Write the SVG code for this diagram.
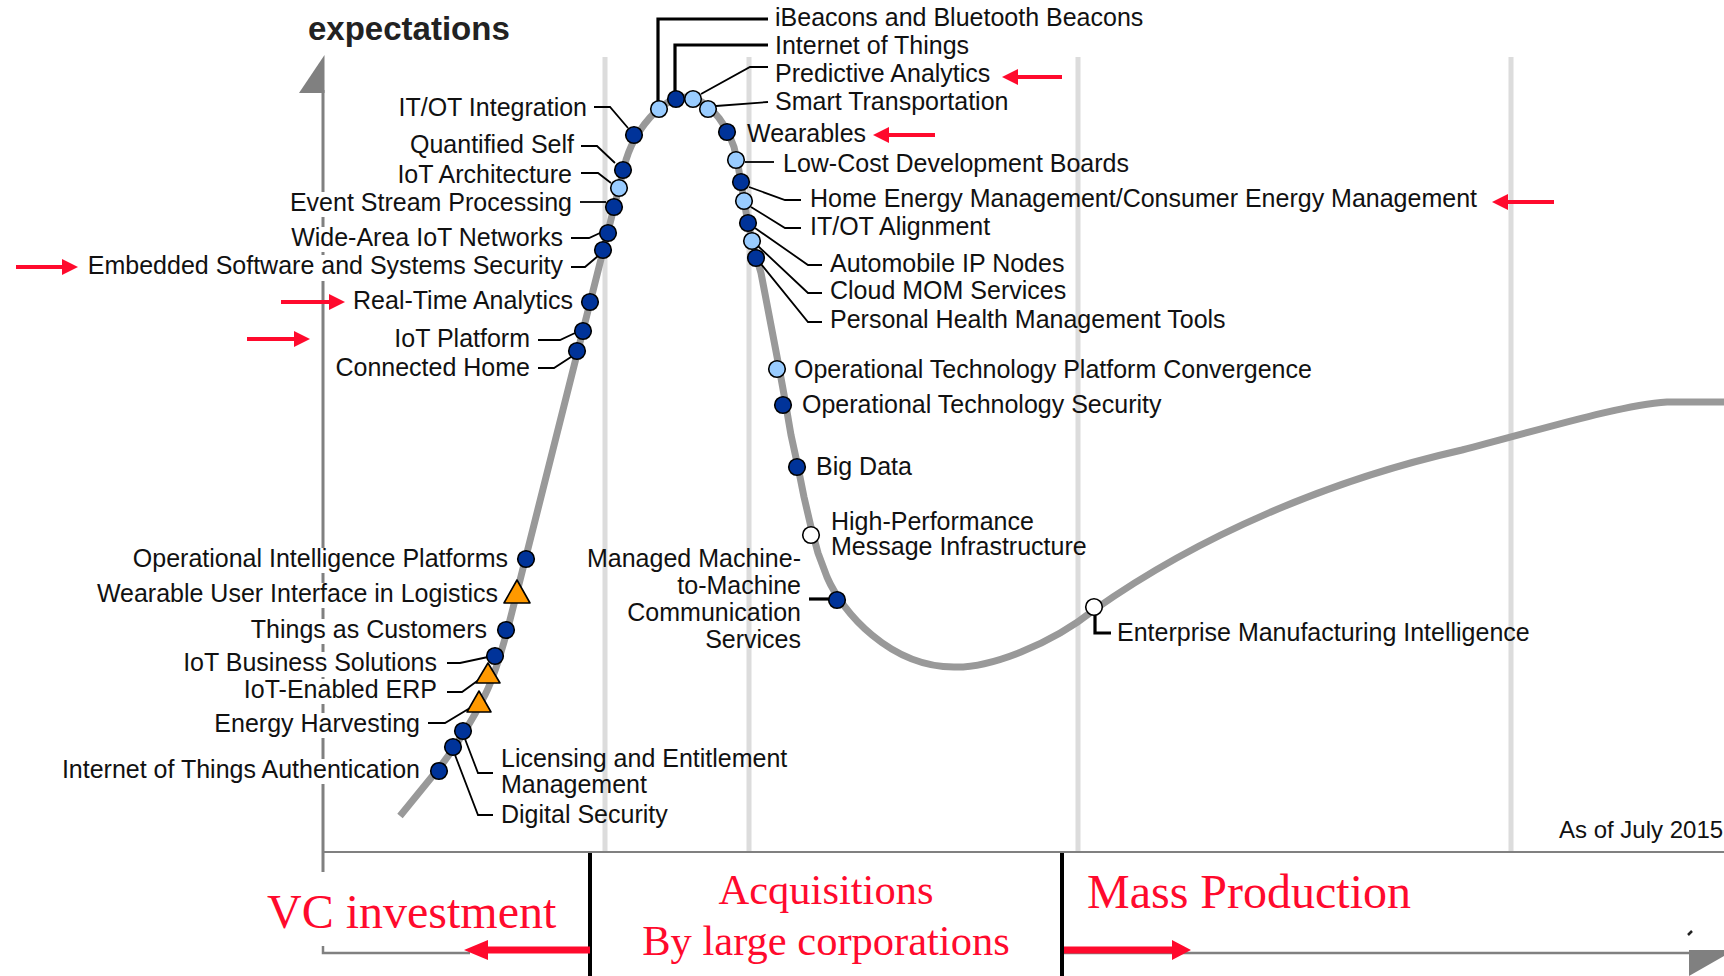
<svg xmlns="http://www.w3.org/2000/svg" width="1724" height="976" viewBox="0 0 1724 976">
<style>
.lbl{font-family:"Liberation Sans",Arial,sans-serif;font-size:25px;fill:#111}
.r{text-anchor:end}
.dk{fill:#003399;stroke:#000;stroke-width:1.6}
.lt{fill:#99ccff;stroke:#000;stroke-width:1.6}
.wt{fill:#fff;stroke:#000;stroke-width:1.6}
.tri{fill:#ff9900;stroke:#000;stroke-width:1.6;stroke-linejoin:round}
.ld{fill:none;stroke:#000;stroke-width:1.8}
.ldk{fill:none;stroke:#000;stroke-width:3.2}
.grid{stroke:#dcdcdc;stroke-width:5}
.red{fill:#ff0a2d}
.rt{font-family:"Liberation Serif","Times New Roman",serif;fill:#ff0a2d}
.wm{fill:#fff}
.ax{stroke:#808080;fill:none}
</style>
<rect width="1724" height="976" fill="#fff"/>
<g id="gridlines">
<line class="grid" x1="605" y1="57" x2="605" y2="851"/>
<line class="grid" x1="749" y1="57" x2="749" y2="851"/>
<line class="grid" x1="1078" y1="57" x2="1078" y2="851"/>
<line class="grid" x1="1511" y1="57" x2="1511" y2="851"/>
</g>
<g id="axes">
<polygon points="324.5,55 299,93 324.5,93" fill="#808080"/>
<line class="ax" x1="323" y1="90" x2="323" y2="872" stroke-width="3"/>
<line class="ax" x1="322" y1="852" x2="1724" y2="852" stroke-width="2" stroke="#8c8c8c"/>
<path class="ax" d="M323,946 V953 H470" stroke-width="2.5"/>
<line class="ax" x1="1062" y1="953" x2="1692" y2="953" stroke-width="2.5"/>
<polygon points="1689,950 1724,950 1724,956 1689,976" fill="#808080"/>
<path d="M1688,935 L1692,931" stroke="#222" stroke-width="2.5"/>
<text x="308" y="40" style="font-family:'Liberation Sans',Arial,sans-serif;font-size:33px;font-weight:bold;fill:#222">expectations</text>
</g>
<g id="curve">
<path fill="none" stroke="#999" stroke-width="7" stroke-linejoin="round" d="M400,816 L435,773 C450,755 470,725 485,695 C495,675 505,640 512,612 L626,160 C632,140 645,120 661,107 L670,101 L679,98 L686,97 L692,98 L702,102 L712,110 L719,118 L725,127 L730,137 L734,147 L738,165 L741,183 L744,200 L747,218 L752,240 L756,256 L761,273 L770,320 L779,367 L785,400 L791,435 L798,467 L804,497 L811,527 L818,553 L827,577 C842,612 890,667 954,667 C990,668 1050,645 1094,610 C1200,535 1330,480 1462,450 C1540,430 1620,405 1667,402 L1730,402"/>
</g>
<g id="axis-masks">
<rect class="wm" x="318" y="192" width="12" height="25"/>
<rect class="wm" x="318" y="227" width="12" height="25"/>
<rect class="wm" x="318" y="255" width="12" height="26"/>
<rect class="wm" x="318" y="548" width="12" height="25"/>
<rect class="wm" x="318" y="583" width="12" height="25"/>
<rect class="wm" x="318" y="619" width="12" height="25"/>
<rect class="wm" x="318" y="652" width="12" height="25"/>
<rect class="wm" x="318" y="679" width="12" height="25"/>
<rect class="wm" x="318" y="713" width="12" height="25"/>
<rect class="wm" x="318" y="759" width="12" height="25"/>
</g>
<g id="connectors">
<path class="ld" d="M594,107 H610 L628,128"/>
<path class="ld" d="M581,146 H597 L615,163"/>
<path class="ld" d="M581,173 H598 L611,183"/>
<path class="ld" d="M580,202 H606"/>
<path class="ld" d="M571,238 H589 L600,233"/>
<path class="ld" d="M571,267 H585 L598,256"/>
<path class="ld" d="M538,340 H560 L575,333"/>
<path class="ld" d="M538,368 H554 L571,357"/>
<path class="ld" d="M447,663 H460 L488,657"/>
<path class="ld" d="M447,692 H462 L480,679"/>
<path class="ld" d="M428,723 H445 L470,708"/>
<path class="ld" d="M465,739 L478,773 H493"/>
<path class="ld" d="M455,755 L478,815 H493"/>
<path class="ldk" d="M658,101 V19 H768"/>
<path class="ldk" d="M675,92 V45 H768"/>
<path class="ld" d="M701,94 L750,67 H768"/>
<path class="ld" d="M716,106 L768,102"/>
<path class="ld" d="M745,162 H774"/>
<path class="ld" d="M749,187 L785,200 H801"/>
<path class="ld" d="M751,207 L785,228 H801"/>
<path class="ld" d="M755,228 L808,265 H822"/>
<path class="ld" d="M758,246 L808,293 H822"/>
<path class="ld" d="M761,264 L808,322 H822"/>
<path class="ldk" d="M809,599 H830"/>
<path class="ldk" d="M1095,615 V633 H1111"/>
</g>
<g id="node-it-ot-integration"><circle class="dk" cx="634" cy="135" r="8.3"/><text class="lbl r" x="587" y="116">IT/OT Integration</text></g>
<g id="node-quantified-self"><circle class="dk" cx="623" cy="170" r="8.3"/><text class="lbl r" x="574" y="153">Quantified Self</text></g>
<g id="node-iot-architecture"><circle class="lt" cx="619" cy="188" r="8.3"/><text class="lbl r" x="572" y="183">IoT Architecture</text></g>
<g id="node-event-stream"><circle class="dk" cx="614" cy="207" r="8.3"/><text class="lbl r" x="572" y="211">Event Stream Processing</text></g>
<g id="node-wide-area"><circle class="dk" cx="608" cy="233" r="8.3"/><text class="lbl r" x="563" y="246">Wide-Area IoT Networks</text></g>
<g id="node-embedded"><circle class="dk" cx="603" cy="250" r="8.3"/><text class="lbl r" x="563" y="274">Embedded Software and Systems Security</text></g>
<g id="node-real-time"><circle class="dk" cx="590" cy="302" r="8.3"/><text class="lbl r" x="573" y="309">Real-Time Analytics</text></g>
<g id="node-iot-platform"><circle class="dk" cx="583" cy="331" r="8.3"/><text class="lbl r" x="530" y="347">IoT Platform</text></g>
<g id="node-connected-home"><circle class="dk" cx="577" cy="351" r="8.3"/><text class="lbl r" x="530" y="376">Connected Home</text></g>
<g id="node-op-intel"><circle class="dk" cx="526" cy="559" r="8.3"/><text class="lbl r" x="508" y="567">Operational Intelligence Platforms</text></g>
<g id="node-wearable-ui"><polygon class="tri" points="517,580 504,603 530,603"/><text class="lbl r" x="498" y="602">Wearable User Interface in Logistics</text></g>
<g id="node-things-customers"><circle class="dk" cx="506" cy="630" r="8.3"/><text class="lbl r" x="487" y="638">Things as Customers</text></g>
<g id="node-iot-business"><circle class="dk" cx="495" cy="656" r="8.3"/><text class="lbl r" x="437" y="671">IoT Business Solutions</text></g>
<g id="node-iot-erp"><polygon class="tri" points="488,663 476,683 500,683"/><text class="lbl r" x="437" y="698">IoT-Enabled ERP</text></g>
<g id="node-energy-harvesting"><polygon class="tri" points="479,691 467,712 491,712"/><text class="lbl r" x="420" y="732">Energy Harvesting</text></g>
<g id="node-licensing"><circle class="dk" cx="463" cy="731" r="8.3"/><text class="lbl" x="501" y="767">Licensing and Entitlement</text><text class="lbl" x="501" y="793">Management</text></g>
<g id="node-digital-security"><circle class="dk" cx="453" cy="747" r="8.3"/><text class="lbl" x="501" y="823">Digital Security</text></g>
<g id="node-iot-auth"><circle class="dk" cx="439" cy="771" r="8.3"/><text class="lbl r" x="420" y="778">Internet of Things Authentication</text></g>
<g id="node-ibeacons"><circle class="lt" cx="659" cy="109" r="8.3"/><text class="lbl" x="775" y="26">iBeacons and Bluetooth Beacons</text></g>
<g id="node-iot"><circle class="dk" cx="676" cy="99" r="8.3"/><text class="lbl" x="775" y="54">Internet of Things</text></g>
<g id="node-predictive"><circle class="lt" cx="693" cy="99" r="8.3"/><text class="lbl" x="775" y="82">Predictive Analytics</text></g>
<g id="node-smart-transport"><circle class="lt" cx="708" cy="109" r="8.3"/><text class="lbl" x="775" y="110">Smart Transportation</text></g>
<g id="node-wearables"><circle class="dk" cx="727" cy="132" r="8.3"/><text class="lbl" x="747" y="142">Wearables</text></g>
<g id="node-low-cost"><circle class="lt" cx="736" cy="160" r="8.3"/><text class="lbl" x="783" y="172">Low-Cost Development Boards</text></g>
<g id="node-home-energy"><circle class="dk" cx="741" cy="182" r="8.3"/><text class="lbl" x="810" y="207">Home Energy Management/Consumer Energy Management</text></g>
<g id="node-it-ot-alignment"><circle class="lt" cx="744" cy="201" r="8.3"/><text class="lbl" x="810" y="235">IT/OT Alignment</text></g>
<g id="node-automobile"><circle class="dk" cx="748" cy="223" r="8.3"/><text class="lbl" x="830" y="272">Automobile IP Nodes</text></g>
<g id="node-cloud-mom"><circle class="lt" cx="752" cy="241" r="8.3"/><text class="lbl" x="830" y="299">Cloud MOM Services</text></g>
<g id="node-personal-health"><circle class="dk" cx="756" cy="258" r="8.3"/><text class="lbl" x="830" y="328">Personal Health Management Tools</text></g>
<g id="node-ot-platform"><circle class="lt" cx="777" cy="369" r="8.3"/><text class="lbl" x="794" y="378">Operational Technology Platform Convergence</text></g>
<g id="node-ot-security"><circle class="dk" cx="783" cy="405" r="8.3"/><text class="lbl" x="802" y="413">Operational Technology Security</text></g>
<g id="node-big-data"><circle class="dk" cx="797" cy="467" r="8.3"/><text class="lbl" x="816" y="475">Big Data</text></g>
<g id="node-hpmi"><circle class="wt" cx="811" cy="535" r="8.3"/><text class="lbl" x="831" y="530">High-Performance</text><text class="lbl" x="831" y="555">Message Infrastructure</text></g>
<g id="node-m2m"><circle class="dk" cx="837" cy="600" r="8.3"/><text class="lbl r" x="801" y="567">Managed Machine-</text><text class="lbl r" x="801" y="594">to-Machine</text><text class="lbl r" x="801" y="621">Communication</text><text class="lbl r" x="801" y="648">Services</text></g>
<g id="node-emi"><circle class="wt" cx="1094" cy="607" r="8.3"/><text class="lbl" x="1117" y="641">Enterprise Manufacturing Intelligence</text></g>
<text class="lbl" x="1559" y="838" style="font-size:24px">As of July 2015</text>
<g id="annotations">
<path class="red" d="M16,265 H62 V259 L78,267 L62,275 V269 H16Z"/>
<path class="red" d="M281,300 H329 V294 L345,302 L329,310 V304 H281Z"/>
<path class="red" d="M247,337 H294 V331 L310,339 L294,347 V341 H247Z"/>
<path class="red" d="M1062,75 H1018 V69 L1002,77 L1018,85 V79 H1062Z"/>
<path class="red" d="M935,133 H889 V127 L873,135 L889,143 V137 H935Z"/>
<path class="red" d="M1554,200 H1508 V194 L1492,202 L1508,210 V204 H1554Z"/>
<line x1="590" y1="853" x2="590" y2="976" stroke="#000" stroke-width="4"/>
<line x1="1062" y1="853" x2="1062" y2="976" stroke="#000" stroke-width="4"/>
<path class="red" d="M590,946.5 H488 V940 L464,950 L488,960 V953.5 H590Z"/>
<path class="red" d="M1064,946.5 H1172 V940 L1191,950 L1172,960 V953.5 H1064Z"/>
<text class="rt" x="267" y="928" style="font-size:48px">VC investment</text>
<text class="rt" x="826" y="904" text-anchor="middle" style="font-size:42.5px">Acquisitions</text>
<text class="rt" x="826" y="955" text-anchor="middle" style="font-size:42.5px">By large corporations</text>
<text class="rt" x="1087" y="908" style="font-size:48px">Mass Production</text>
</g>
</svg>
